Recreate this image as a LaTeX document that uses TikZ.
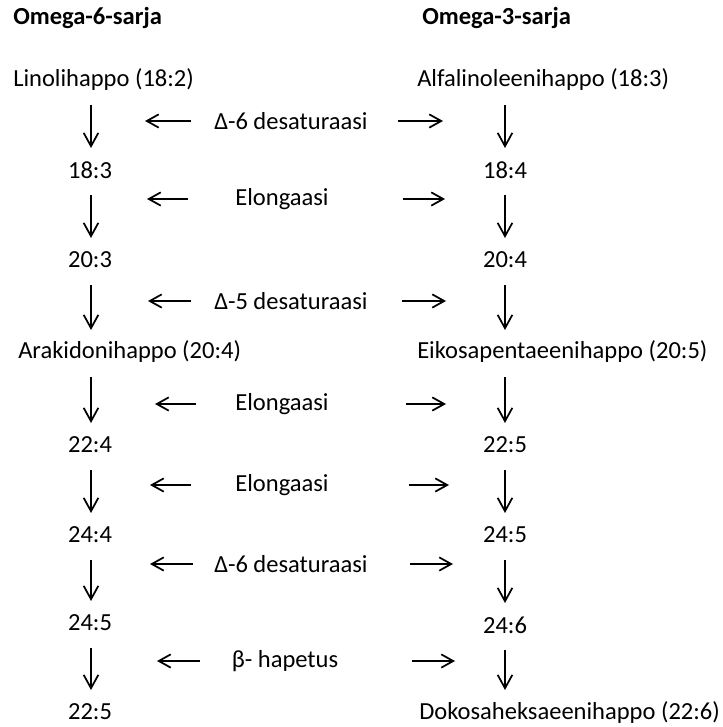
\documentclass[tikz,border=0pt]{standalone}
\usepackage{fontspec}
\setmainfont{Carlito}
\usetikzlibrary{arrows.meta}

\begin{document}
\begin{tikzpicture}[
        x=0.75pt, y=-0.75pt,
        every node/.style={inner sep=0pt, font=\fontsize{18.4}{22}\selectfont},
        head/.style={anchor=west, font=\fontsize{18.4}{22}\selectfont\bfseries},
        longacid/.style={anchor=west},
        down/.style={-{Straight Barb[length=10pt, width=11pt]}, line width=1.3pt, shorten <=18.75pt, shorten >=16.5pt},
        side/.style={-{Straight Barb[length=9pt, width=10pt]}, line width=1.3pt, shorten <=#1}
        ]
        \useasboundingbox (0,0) rectangle (723,727);

        % column lines for the down arrows
        \coordinate (colL) at (91,0);
        \coordinate (colR) at (505,0);

        \node[head] (om6) at (13,18) {Omega-6-sarja};
        \node[head] (om3) at (422,18) {Omega-3-sarja};

        % omega-6
        \node[longacid] (lino) at (13,80) {Linolihappo (18:2)};
        \node (l183) at (90,170) {18:3};
        \node (l203) at (90,260) {20:3};
        \node[longacid] (arak) at (18,352) {Arakidonihappo (20:4)};
        \node (l224) at (90,445) {22:4};
        \node (l244) at (90,535) {24:4};
        \node (l245) at (90,623) {24:5};
        \node (l225) at (90,712) {22:5};

        % omega-3
        \node[longacid] (alfa) at (417,80) {Alfalinoleenihappo (18:3)};
        \node (r184) at (505,170) {18:4};
        \node (r204) at (505,260) {20:4};
        \node[longacid] (eiko) at (417,352) {Eikosapentaeenihappo (20:5)};
        \node (r225) at (505,445) {22:5};
        \node (r245) at (505,535) {24:5};
        \node (r246) at (505,625) {24:6};
        \node[longacid] (doko) at (419,712) {Dokosaheksaeenihappo (22:6)};

        % enzymes
        \node (e1) at (291,121) {Δ-6 desaturaasi};
        \node (e2) at (282,199) {Elongaasi};
        \node (e3) at (291,301) {Δ-5 desaturaasi};
        \node (e4) at (282,404) {Elongaasi};
        \node (e5) at (282,485) {Elongaasi};
        \node (e6) at (291,564) {Δ-6 desaturaasi};
        \node (e7) at (285,661) {β- hapetus};

        \coordinate (e1l) at (145,121); \coordinate (e1r) at (443,121);
        \coordinate (e2l) at (147,199); \coordinate (e2r) at (445,199);
        \coordinate (e3l) at (148,301); \coordinate (e3r) at (446,301);
        \coordinate (e4l) at (155,404); \coordinate (e4r) at (446,404);
        \coordinate (e5l) at (150,485); \coordinate (e5r) at (449,485);
        \coordinate (e6l) at (150,564); \coordinate (e6r) at (453,564);
        \coordinate (e7l) at (157,661); \coordinate (e7r) at (455,661);

        \draw[down] (lino -| colL) -- (l183 -| colL);
        \draw[down] (l183 -| colL) -- (l203 -| colL);
        \draw[down] (l203 -| colL) -- (arak -| colL);
        \draw[down] (arak -| colL) -- (l224 -| colL);
        \draw[down] (l224 -| colL) -- (l244 -| colL);
        \draw[down] (l244 -| colL) -- (l245 -| colL);
        \draw[down] (l245 -| colL) -- (l225 -| colL);

        \draw[down] (alfa -| colR) -- (r184 -| colR);
        \draw[down] (r184 -| colR) -- (r204 -| colR);
        \draw[down] (r204 -| colR) -- (eiko -| colR);
        \draw[down] (eiko -| colR) -- (r225 -| colR);
        \draw[down] (r225 -| colR) -- (r245 -| colR);
        \draw[down] (r245 -| colR) -- (r246 -| colR);
        \draw[down] (r246 -| colR) -- (doko -| colR);

        \draw[side=17pt] (e1) -- (e1l);
        \draw[side=22.5pt] (e1) -- (e1r);
        \draw[side=35pt] (e2) -- (e2l);
        \draw[side=55.5pt] (e2) -- (e2r);
        \draw[side=17pt] (e3) -- (e3l);
        \draw[side=25.5pt] (e3) -- (e3r);
        \draw[side=29pt] (e4) -- (e4l);
        \draw[side=58pt] (e4) -- (e4r);
        \draw[side=33pt] (e5) -- (e5l);
        \draw[side=60pt] (e5) -- (e5r);
        \draw[side=16pt] (e6) -- (e6l);
        \draw[side=31.5pt] (e6) -- (e6r);
        \draw[side=24pt] (e7) -- (e7l);
        \draw[side=55pt] (e7) -- (e7r);
    \end{tikzpicture}
\end{document}
